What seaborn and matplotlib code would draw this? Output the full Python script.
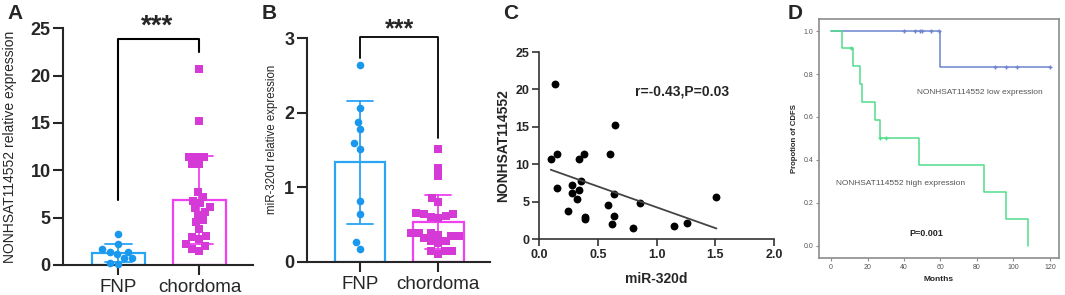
import numpy as np
import pandas as pd
import matplotlib.pyplot as plt
import seaborn as sns

sns.set_style('ticks')
plt.rcParams['font.family'] = ['Liberation Sans', 'DejaVu Sans']

groups = ['FNP', 'chordoma']

# panel A / B : FNP samples
fnp_lnc = [3.3, 2.25, 1.65, 1.4, 1.2, 1.4, 0.7, 0.7, 0.25, 0.1]
fnp_mir = [2.64, 2.06, 1.88, 1.78, 1.59, 1.52, 0.81, 0.64, 0.26, 0.17]

# chordoma samples (x = miR-320d, y = NONHSAT114552), also panel C
chordoma_mir = [0.10, 0.14, 0.15, 0.15, 0.25, 0.28, 0.28, 0.32, 0.34, 0.34, 0.36, 0.38, 0.39,
                0.39, 0.59, 0.60, 0.64, 0.65, 0.64, 0.62, 0.80, 0.86, 1.15, 1.26, 1.51]
chordoma_lnc = [10.7, 20.7, 11.4, 6.8, 3.8, 7.2, 6.1, 5.3, 6.5, 10.7, 7.7, 11.4, 3.0,
                2.7, 4.5, 11.4, 6.0, 15.2, 3.1, 2.0, 1.5, 4.8, 1.7, 2.2, 5.6]

# panel D : survival (months, 1 = event, 0 = censored)
high_months = [6, 11, 12, 16, 17, 24, 27, 27, 30, 48, 84, 96, 108]
high_event = [1, 0, 1, 1, 1, 1, 1, 0, 0, 1, 1, 1, 1]
low_months = [40, 46, 49, 50, 55, 59, 60, 90, 96, 102, 120, 120]
low_event = [0, 0, 0, 0, 0, 0, 1, 0, 0, 0, 0, 0]

bar_cols = {'FNP': '#2aa4f4', 'chordoma': '#f040f0'}
pt_cols = {'FNP': '#1a98ee', 'chordoma': '#d63ad6'}


def dot_bar(ax, fnp, chor, ymax, yticks):
    df = pd.DataFrame({'group': ['FNP'] * len(fnp) + ['chordoma'] * len(chor),
                       'value': list(fnp) + list(chor)})
    sns.barplot(df, x='group', y='value', hue='group', order=groups, palette=bar_cols,
                fill=False, errorbar='sd', capsize=0.33, width=0.65, linewidth=1.6,
                err_kws={'linewidth': 1.3}, legend=False, ax=ax)
    sns.swarmplot(df[df.group == 'FNP'], x='group', y='value', order=groups,
                  color=pt_cols['FNP'], marker='o', size=5.5, ax=ax)
    sns.swarmplot(df[df.group == 'chordoma'], x='group', y='value', order=groups,
                  color=pt_cols['chordoma'], marker='s', size=5.2, ax=ax)
    for c in ax.collections:
        c.set_clip_on(False)
    ax.set_ylim(0, ymax)
    ax.set_yticks(yticks)
    ax.set_xlim(-0.68, 1.66)
    ax.set_xlabel('')
    sns.despine(ax=ax)
    for s in ['left', 'bottom']:
        ax.spines[s].set_linewidth(1.5)
    ax.tick_params(axis='y', length=7, width=1.5, labelsize=13, pad=2)
    ax.tick_params(axis='x', length=7, width=1.5, labelsize=13.5, pad=3)
    for t in ax.get_yticklabels():
        t.set_fontweight('bold')


fig = plt.figure(figsize=(10.65, 2.95), dpi=100)

# A
axA = fig.add_axes([0.0592, 0.1017, 0.1784, 0.8024])
dot_bar(axA, fnp_lnc, chordoma_lnc, 25, [0, 5, 10, 15, 20, 25])
axA.set_ylabel('')
fig.text(10 / 1065, 0.503, 'NONHSAT114552 relative expression', rotation=90,
         ha='center', va='center', fontsize=10)
axA.plot([0, 0, 1, 1], [6.9, 23.9, 23.9, 22.5], color='black', lw=1.5, clip_on=False)
axA.text(0.48, 25.2, '***', ha='center', va='center', fontsize=20, fontweight='bold')

# B
axB = fig.add_axes([0.288, 0.1129, 0.1721, 0.7573])
dot_bar(axB, fnp_mir, chordoma_mir, 3, [0, 1, 2, 3])
axB.set_ylabel('')
fig.text(272 / 1065, 1 - 139 / 295, 'miR-320d relative expression', rotation=90,
         ha='center', va='center', fontsize=8.3)
axB.plot([0, 0, 1, 1], [2.73, 3.02, 3.02, 1.66], color='black', lw=1.3, clip_on=False)
axB.text(0.5, 3.12, '***', ha='center', va='center', fontsize=18, fontweight='bold')

# C
axC = fig.add_axes([0.5061, 0.1898, 0.2207, 0.6339])
sns.regplot(x=chordoma_mir, y=chordoma_lnc, ci=None, ax=axC,
            scatter_kws={'color': 'black', 's': 32, 'alpha': 1, 'linewidths': 0},
            line_kws={'color': '#444444', 'lw': 1.3})
axC.set_xlim(0, 2)
axC.set_ylim(0, 25)
axC.set_xticks([0, 0.5, 1.0, 1.5, 2.0])
axC.set_xticklabels(['0.0', '0.5', '1.0', '1.5', '2.0'])
axC.set_yticks([0, 5, 10, 15, 20, 25])
sns.despine(ax=axC)
for s in ['left', 'bottom']:
    axC.spines[s].set_linewidth(1.2)
    axC.spines[s].set_color('#333333')
axC.tick_params(length=5, width=1.2, color='#333333', labelsize=9, pad=2)
for t in axC.get_xticklabels() + axC.get_yticklabels():
    t.set_fontweight('bold')
axC.set_xlabel('miR-320d', fontsize=10, fontweight='bold', labelpad=8)
axC.set_ylabel('NONHSAT114552', fontsize=10, fontweight='bold', labelpad=4)
axC.text(0.82, 19.7, 'r=-0.43,P=0.03', fontsize=10, fontweight='bold', va='center',
         family=['Liberation Sans Narrow', 'Liberation Sans'])


# D
def km_curve(months, events):
    t = np.array(months, dtype=float)
    e = np.array(events)
    xs, ys = [0.0], [1.0]
    surv = 1.0
    cens_x, cens_y = [], []
    for u in np.unique(t):
        at_risk = np.sum(t >= u)
        d = np.sum((t == u) & (e == 1))
        if d:
            surv *= 1 - d / at_risk
            xs.append(u)
            ys.append(surv)
        if np.any((t == u) & (e == 0)):
            cens_x.append(u)
            cens_y.append(surv)
    xs.append(t.max())
    ys.append(surv)
    return xs, ys, cens_x, cens_y


axD = fig.add_axes([0.769, 0.1254, 0.2254, 0.810])
for months, events, col in [(low_months, low_event, '#6d85cf'),
                            (high_months, high_event, '#52dd8c')]:
    xs, ys, cx, cy = km_curve(months, events)
    sns.lineplot(x=xs, y=ys, drawstyle='steps-post', color=col, lw=1.1, ax=axD,
                 estimator=None, sort=False)
    axD.plot(cx, cy, ls='none', marker='+', ms=3.5, mew=1, color=col)
axD.set_xlim(-6.6, 125)
axD.set_ylim(-0.057, 1.056)
axD.set_xticks(range(0, 121, 20))
axD.set_yticks([0, 0.2, 0.4, 0.6, 0.8, 1.0])
axD.set_yticklabels(['0.0', '0.2', '0.4', '0.6', '0.8', '1.0'])
for s in axD.spines.values():
    s.set_color('#8c8c8c')
    s.set_linewidth(1.2)
axD.tick_params(length=2.5, width=0.8, color='#8c8c8c', labelsize=5, labelcolor='#555555', pad=1.5)
axD.set_xlabel('Months', fontsize=6, fontweight='bold', labelpad=4)
axD.set_ylabel('Propotion of CDFS', fontsize=5.6, fontweight='bold', labelpad=4)
axD.text(47, 0.713, 'NONHSAT114552 low expression', fontsize=6, color='#555555', va='center')
axD.text(2.6, 0.292, 'NONHSAT114552 high expression', fontsize=6, color='#555555', va='center')
axD.text(52.3, 0.058, 'P=0.001', fontsize=6.5, fontweight='bold', ha='center', va='center')

for lab, x in [('A', 7), ('B', 262), ('C', 503), ('D', 788)]:
    fig.text(x / 1065, 1 - 4 / 295, lab, fontsize=15, fontweight='bold', va='top', ha='left')

fig.savefig('out.png', dpi=100)
